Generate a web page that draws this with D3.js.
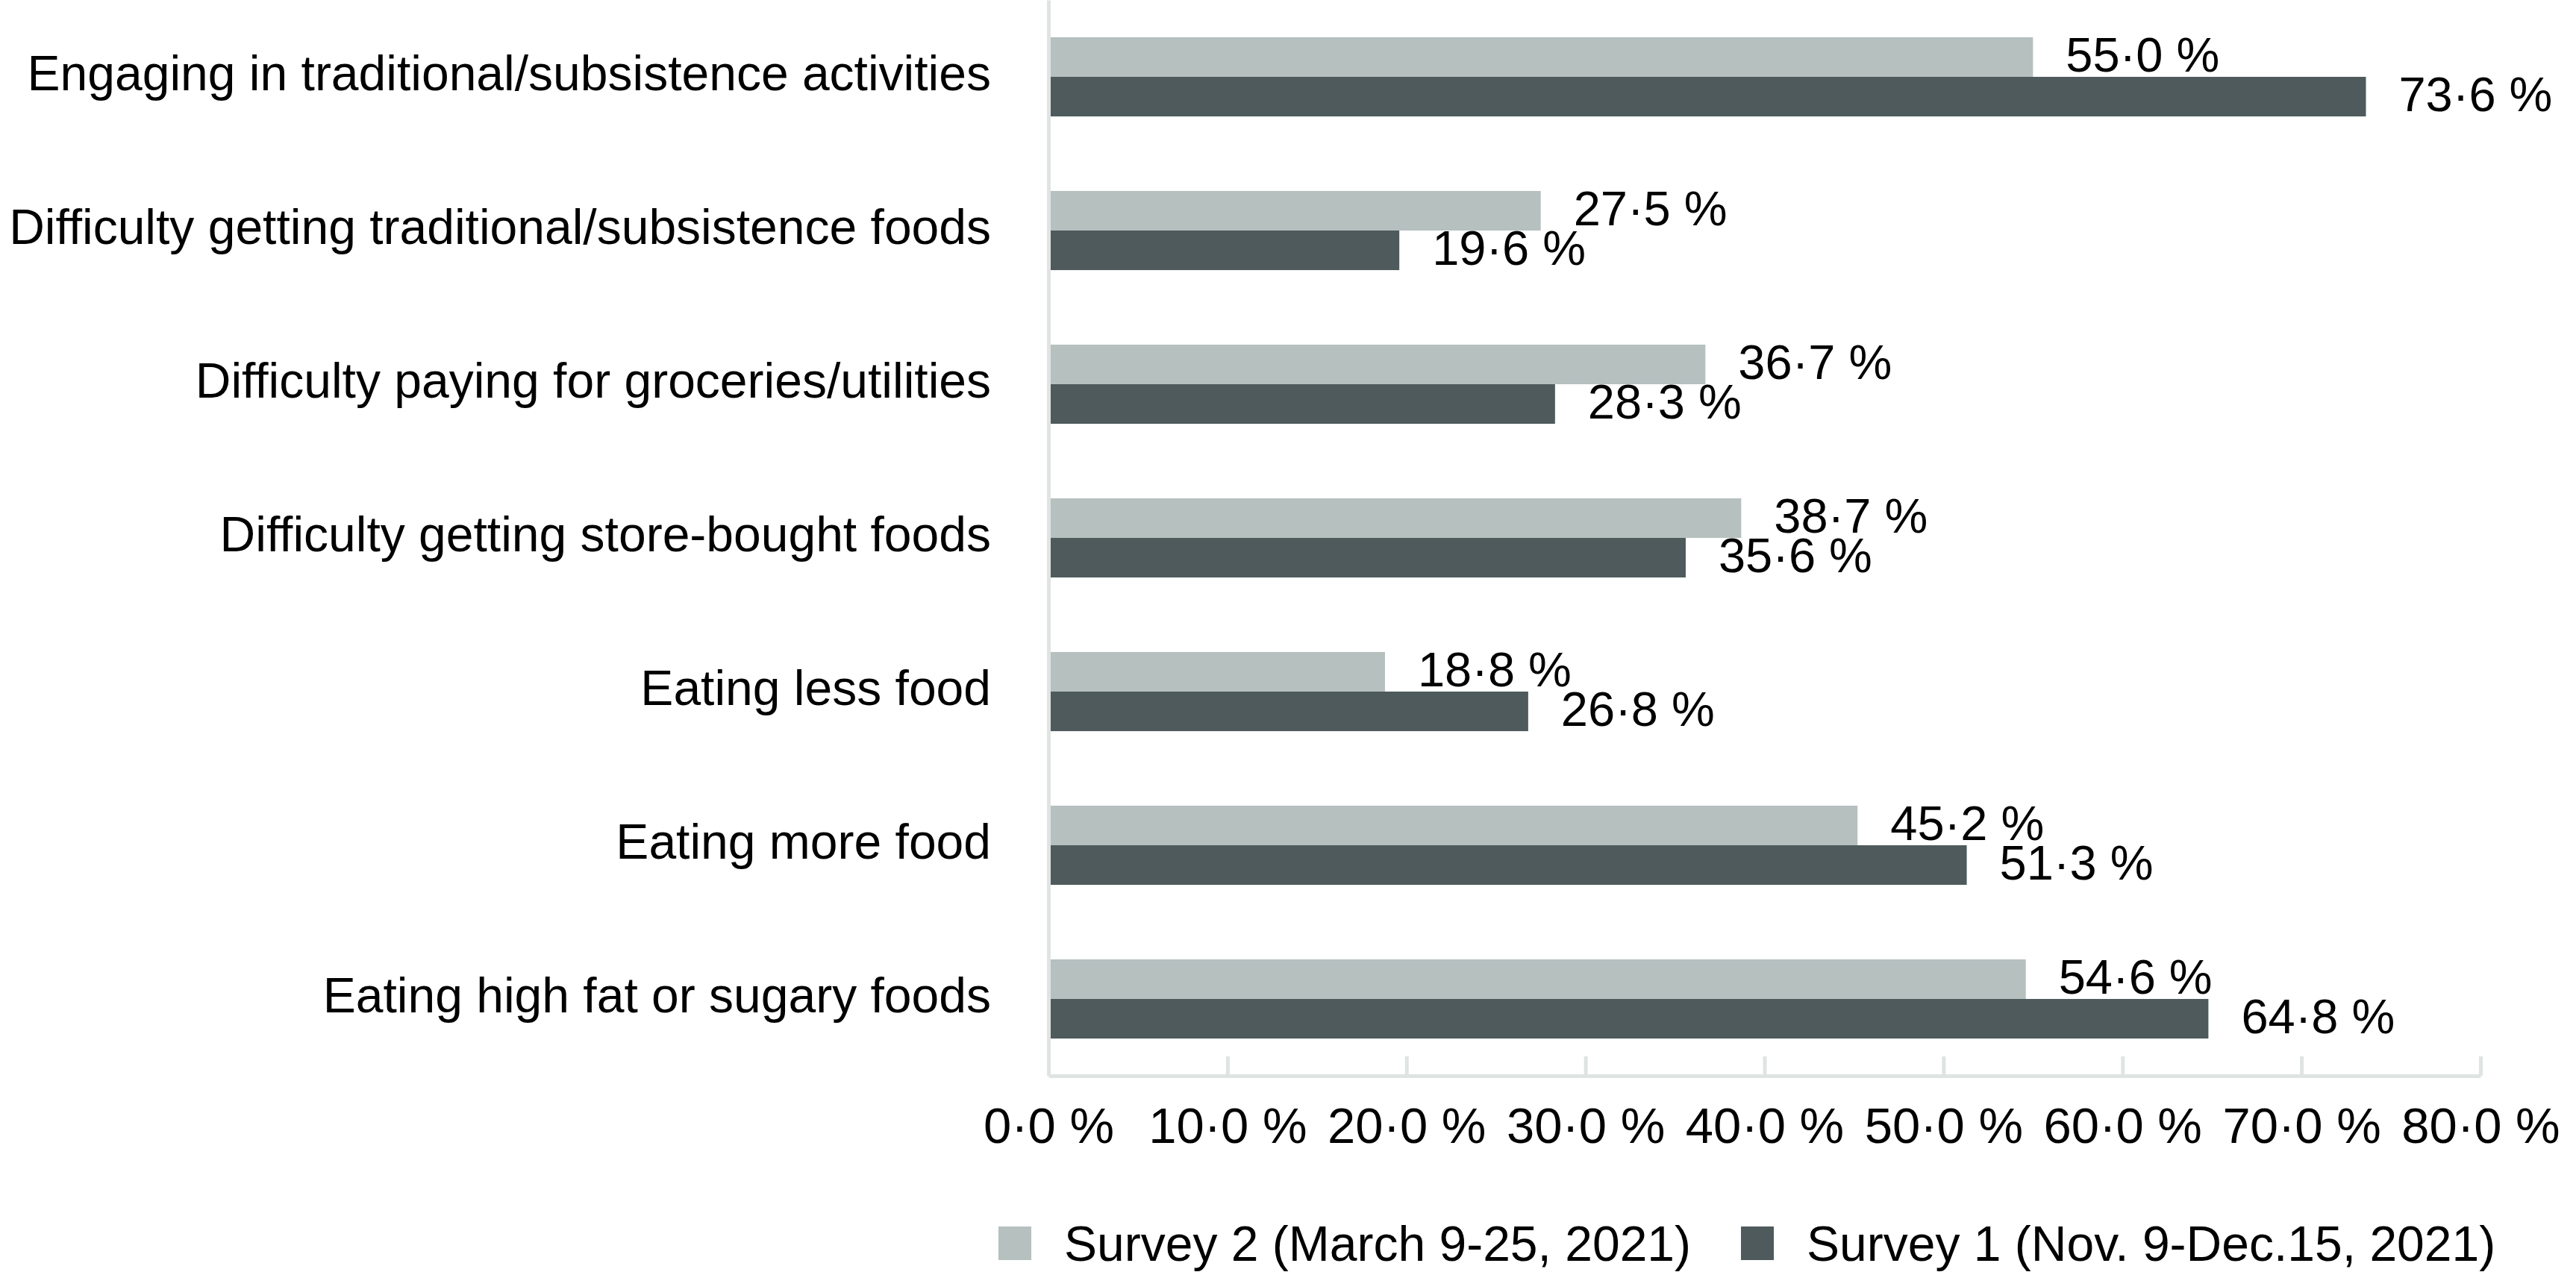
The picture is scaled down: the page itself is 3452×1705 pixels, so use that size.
<!DOCTYPE html>
<html>
<head>
<meta charset="utf-8">
<script src="https://cdn.jsdelivr.net/npm/d3@7"></script>
<style>
  body { margin: 0; background: #fff; }
  text { font-family: "Liberation Sans", Arial, sans-serif; fill: #000; }
</style>
</head>
<body>
<div id="chart"></div>
<script>
// categories, top to bottom
let categories = [
    'Engaging in traditional/subsistence activities',
    'Difficulty getting traditional/subsistence foods',
    'Difficulty paying for groceries/utilities',
    'Difficulty getting store-bought foods',
    'Eating less food',
    'Eating more food',
    'Eating high fat or sugary foods'
];
let seriesNames = ['Survey 2 (March 9-25, 2021)', 'Survey 1 (Nov. 9-Dec.15, 2021)'];
let survey2 = [55.0, 27.5, 36.7, 38.7, 18.8, 45.2, 54.6];
let survey1 = [73.6, 19.6, 28.3, 35.6, 26.8, 51.3, 64.8];
let xTicks = [0, 10, 20, 30, 40, 50, 60, 70, 80];

let colors = ['#b5c0bf', '#4e5a5b'];

//svg size
let svgWidth = 3452;
let svgHeight = 1705;

//plot area
let margin = { top: 0, left: 1405 };
let chartWidth = 3324 - 1405;
let chartHeight = 1442;

let svg = d3.select('#chart')
    .append('svg')
    .attr('width', svgWidth)
    .attr('height', svgHeight);

let chartGroup = svg.append('g')
    .attr('transform', `translate(${margin.left}, ${margin.top})`);

let fmt = d => d.toFixed(1).replace('.', '·') + ' %';

//scales
let xScale = d3.scaleLinear()
    .domain([0, 80])
    .range([0, chartWidth]);

let yScale = d3.scaleBand()
    .domain(categories)
    .range([0, chartHeight])
    .paddingInner(0.485)
    .paddingOuter(0.2425);

let subScale = d3.scaleBand()
    .domain([0, 1])
    .range([0, yScale.bandwidth()]);

//rows for drawing
let rows = [];
categories.forEach((c, i) => {
    rows.push({ cat: c, s: 0, value: survey2[i] });
    rows.push({ cat: c, s: 1, value: survey1[i] });
});

//x axis, ticks pointing up
let xAxis = d3.axisBottom(xScale)
    .tickValues(xTicks)
    .tickSizeInner(-26)
    .tickSizeOuter(0)
    .tickPadding(42)
    .tickFormat(fmt);

let xg = chartGroup.append('g')
    .attr('transform', `translate(0, ${chartHeight})`)
    .call(xAxis);
xg.select('.domain').attr('stroke', '#dfe4e3').attr('stroke-width', 5);
xg.selectAll('.tick line').attr('stroke', '#dfe4e3').attr('stroke-width', 5);
xg.selectAll('.tick text')
    .style('font-size', '67px')
    .style('font-family', '"Liberation Sans", Arial, sans-serif')
    .attr('fill', '#000');

//bars
chartGroup.selectAll('rect.bar')
    .data(rows)
    .enter()
    .append('rect')
    .attr('class', 'bar')
    .attr('x', 0)
    .attr('y', d => yScale(d.cat) + subScale(d.s))
    .attr('width', d => xScale(d.value))
    .attr('height', subScale.bandwidth())
    .attr('fill', d => colors[d.s]);

//value labels
chartGroup.selectAll('text.val')
    .data(rows)
    .enter()
    .append('text')
    .attr('class', 'val')
    .attr('x', d => xScale(d.value) + 44)
    .attr('y', d => yScale(d.cat) + subScale(d.s) + subScale.bandwidth() / 2)
    .attr('dy', '0.3em')
    .style('font-size', '65px')
    .text(d => fmt(d.value));

//y axis line with category labels
let yAxis = d3.axisLeft(yScale)
    .tickSize(0)
    .tickPadding(77);

let yg = chartGroup.append('g').call(yAxis);
yg.select('.domain').attr('stroke', '#dfe4e3').attr('stroke-width', 5);
yg.selectAll('.tick text')
    .attr('dy', '0.28em')
    .style('font-size', '66px')
    .style('font-family', '"Liberation Sans", Arial, sans-serif')
    .attr('fill', '#000');

//legend
let legendX = [1338, 2333];
let legend = svg.selectAll('g.legend')
    .data(seriesNames)
    .enter()
    .append('g')
    .attr('class', 'legend')
    .attr('transform', (d, i) => `translate(${legendX[i]}, 1666)`);

legend.append('rect')
    .attr('x', 0)
    .attr('y', -22)
    .attr('width', 44)
    .attr('height', 45)
    .attr('fill', (d, i) => colors[i]);

legend.append('text')
    .attr('x', 88)
    .attr('y', 0)
    .attr('dy', '0.36em')
    .style('font-size', '66px')
    .text(d => d);
</script>
</body>
</html>
